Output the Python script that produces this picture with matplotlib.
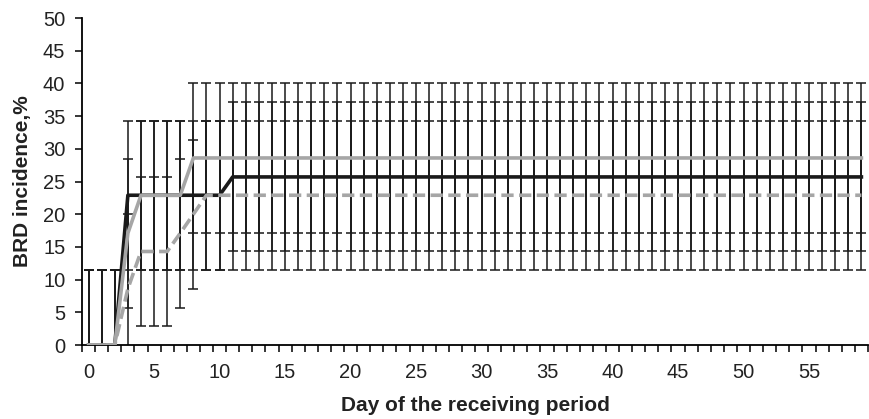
import matplotlib.pyplot as plt
import numpy as np

plt.rcParams["font.family"] = ["Liberation Sans", "DejaVu Sans"]

# days of the receiving period
days = list(range(60))

# BRD incidence (%) per group
gray_solid = [0, 0, 0, 17.1, 22.9, 22.9, 22.9, 22.9] + [28.6] * 52
black_solid = [0, 0, 0] + [22.9] * 8 + [25.7] * 49
gray_dashed = [0, 0, 0, 8.6, 14.3, 14.3, 14.3, 17.1, 20.0] + [22.9] * 51
err = 11.4

x_ticks = list(range(0, 60, 5))
y_ticks = list(range(0, 55, 5))

fig = plt.figure(figsize=(8.69, 4.19), dpi=100)
ax = fig.add_axes([0.0944, 0.1766, 0.9044, 0.7804])

for vals in [black_solid, gray_dashed, gray_solid]:
    ax.errorbar(days, vals, yerr=err, fmt="none", ecolor="#1a1a1a",
                elinewidth=1.1, capsize=3.6, capthick=1.1, zorder=2)

ax.plot(days, black_solid, color="#1a1a1a", linewidth=2.6, zorder=3)
ax.plot(days, gray_dashed, color="#a6a6a6", linewidth=2.6,
        dashes=(3.4, 1.5), zorder=4)
ax.plot(days, gray_solid, color="#a6a6a6", linewidth=2.6, zorder=5)

ax.set_xlim(-0.5, 59.5)
ax.set_ylim(0, 50)
ax.set_yticks(y_ticks)
ax.set_xticks(x_ticks)
ax.set_xticks(np.arange(-0.5, 60, 1), minor=True)
ax.tick_params(axis="x", which="major", length=0, pad=13, labelsize=14.5,
               labelcolor="#222222")
ax.tick_params(axis="x", which="minor", length=5, width=1.1, direction="out")
ax.tick_params(axis="y", length=5, width=1.1, direction="out", labelsize=14.5,
               pad=7, labelcolor="#222222")

for s in ["top", "right"]:
    ax.spines[s].set_visible(False)
for s in ["left", "bottom"]:
    ax.spines[s].set_linewidth(1.3)

ax.set_xlabel("Day of the receiving period", fontsize=15, fontweight="bold",
              labelpad=10, color="#222222")
ax.set_ylabel("BRD incidence,%", fontsize=15, fontweight="bold", labelpad=8,
              color="#222222")

fig.savefig("out.png", dpi=100)
